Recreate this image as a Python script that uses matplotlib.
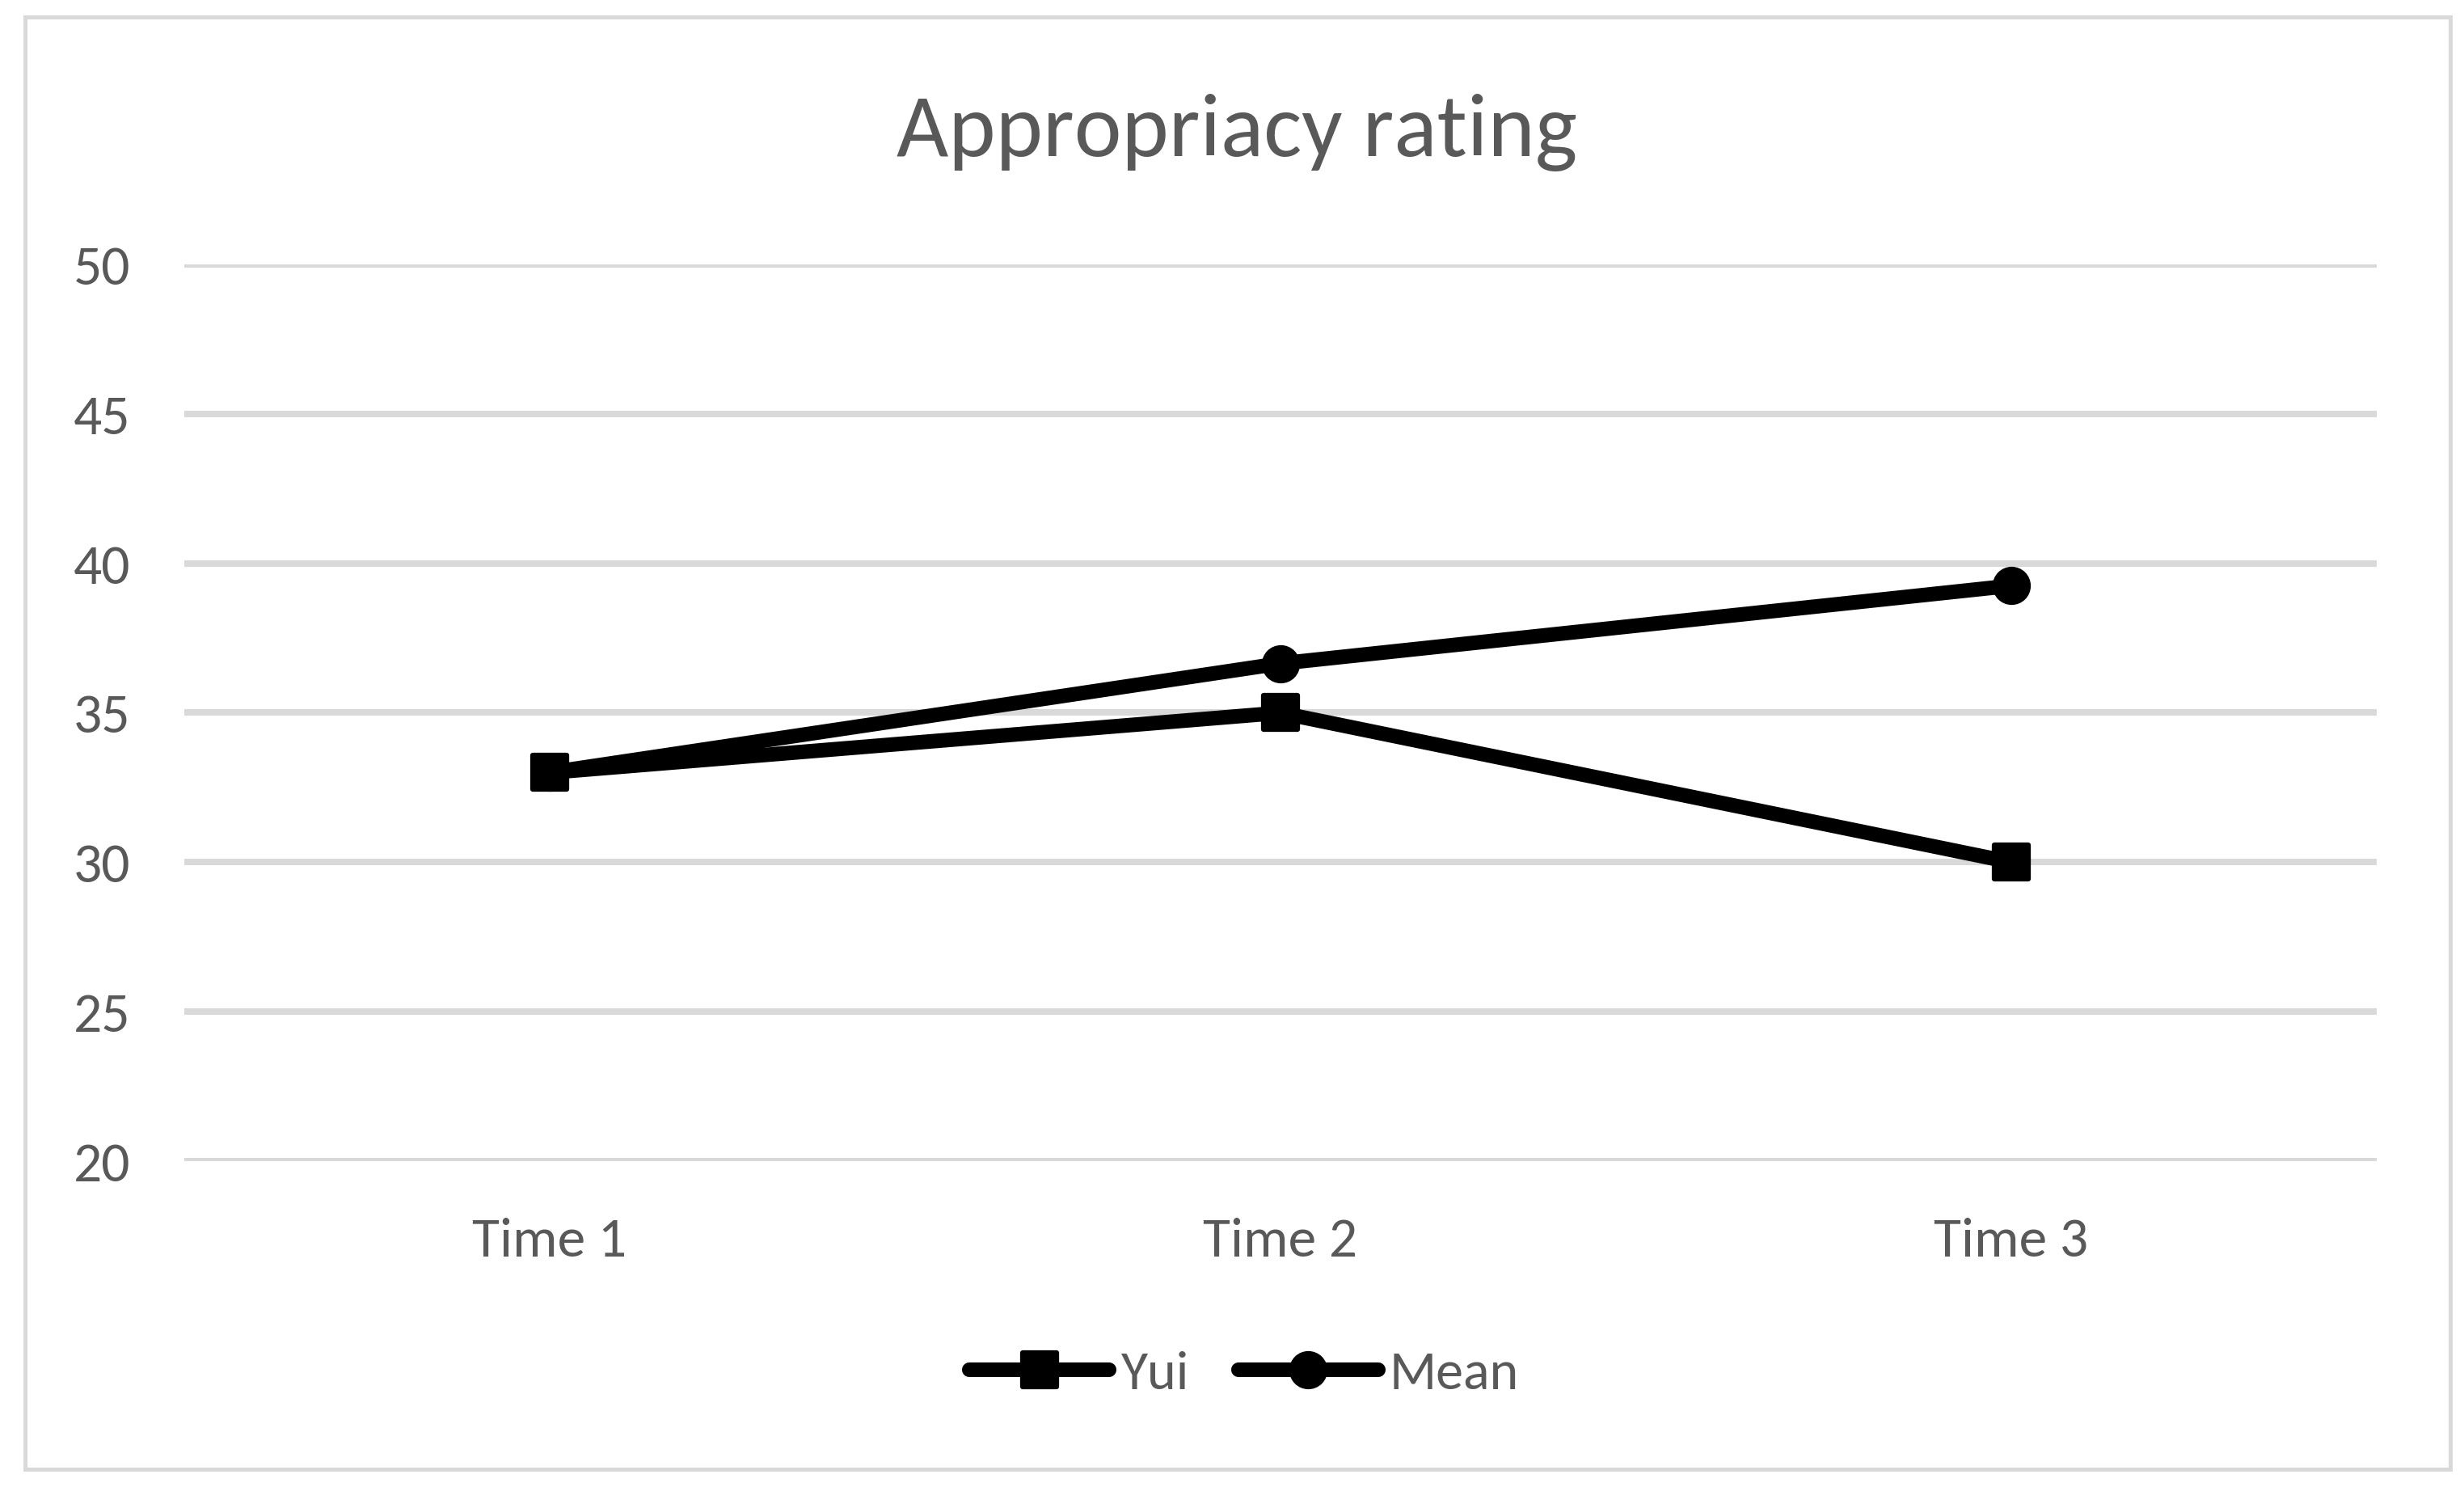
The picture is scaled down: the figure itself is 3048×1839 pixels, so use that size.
import matplotlib
matplotlib.use("Agg")
import matplotlib.pyplot as plt
from matplotlib import font_manager
from matplotlib.markers import MarkerStyle
from matplotlib.patches import Rectangle

# data
categories = ["Time 1", "Time 2", "Time 3"]
yui = [33, 35, 30]
mean = [33, 36.65, 39.25]
yticks = [20, 25, 30, 35, 40, 45, 50]

W, H = 3048, 1840
GREY_TXT = "#595959"
GREY_LN = "#d9d9d9"

names = {f.name for f in font_manager.fontManager.ttflist}
font = "Carlito" if "Carlito" in names else "Lato"
plt.rcParams["font.family"] = [font, "DejaVu Sans"]

fig = plt.figure(figsize=(W / 100, H / 100), dpi=100)

# chart area border
fig.patches.append(Rectangle((31 / W, 1 - 1818 / H), 3000 / W, 1796 / H,
                             transform=fig.transFigure, fill=False,
                             edgecolor=GREY_LN, linewidth=3.6))

ax = fig.add_axes([228 / W, 1 - 1437 / H, 2712 / W, 1109 / H])
x = list(range(len(categories)))

sq = MarkerStyle("s", joinstyle="round")
ci = MarkerStyle("o")
ax.plot(x, yui, color="black", lw=13, marker=sq, ms=30, mew=4.5,
        solid_capstyle="round", solid_joinstyle="round", label="Yui",
        zorder=3, clip_on=False)
ax.plot(x, mean, color="black", lw=13, marker=ci, ms=31, mew=3,
        solid_capstyle="round", solid_joinstyle="round", label="Mean",
        zorder=3, clip_on=False)

ax.set_xlim(-0.5, 2.5)
ax.set_ylim(20, 50)
ax.set_yticks(yticks)
ax.set_xticks(x)
ax.set_xticklabels(categories)
ax.yaxis.grid(True, color=GREY_LN, lw=5.8)
ax.set_axisbelow(True)
for s in ax.spines.values():
    s.set_visible(False)
ax.tick_params(axis="both", length=0, labelsize=50, labelcolor=GREY_TXT)
ax.tick_params(axis="y", pad=48)
ax.tick_params(axis="x", pad=50)

fig.text(1530 / W, 1 - 193 / H, "Appropriacy rating", ha="center",
         va="baseline", fontsize=80, color=GREY_TXT)

fig.legend(loc="center", bbox_to_anchor=(1539 / W, 1 - 1700 / H), ncol=2,
           frameon=False, fontsize=49, labelcolor=GREY_TXT,
           handlelength=2.55, handletextpad=0.2, columnspacing=0.9)

fig.savefig("out.png", dpi=100, facecolor="white")
